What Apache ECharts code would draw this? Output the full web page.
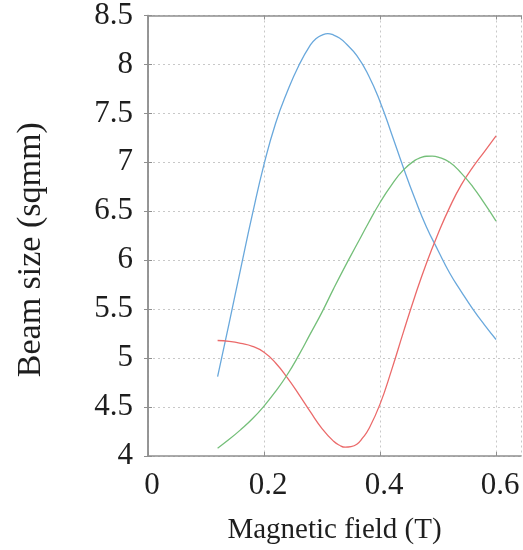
<!DOCTYPE html>
<html>
<head>
<meta charset="utf-8">
<script src="https://cdn.jsdelivr.net/npm/echarts@6/dist/echarts.min.js"></script>
<style>
  html, body { margin: 0; padding: 0; background: #fff; }
  #chart { width: 523px; height: 550px; }
</style>
</head>
<body>
<div id="chart"></div>
<script>
// Blue curve: magnetic field (T) and beam size (sqmm); denser sampling around the maximum
const blueField = [0.12, 0.14, 0.16, 0.18, 0.20, 0.22, 0.24, 0.26, 0.28,
                   0.29, 0.30, 0.31, 0.32, 0.33, 0.34,
                   0.36, 0.38, 0.40, 0.42, 0.44, 0.46, 0.48, 0.50, 0.52, 0.54, 0.56, 0.58, 0.60];
const blueSize  = [4.81, 5.36, 5.92, 6.47, 6.98, 7.40, 7.72, 7.99, 8.20,
                   8.265, 8.30, 8.315, 8.30, 8.27, 8.22,
                   8.09, 7.89, 7.62, 7.29, 6.95, 6.63, 6.34, 6.10, 5.87, 5.68, 5.50, 5.34, 5.19];

// Red curve: denser sampling around the minimum
const redField = [0.12, 0.14, 0.16, 0.18, 0.20, 0.22, 0.24, 0.26, 0.28, 0.30,
                  0.32, 0.33, 0.34, 0.35, 0.36, 0.37,
                  0.38, 0.40, 0.42, 0.44, 0.46, 0.48, 0.50, 0.52, 0.54, 0.56, 0.58, 0.60];
const redSize  = [5.18, 5.17, 5.15, 5.12, 5.06, 4.95, 4.80, 4.63, 4.45, 4.28,
                  4.15, 4.11, 4.09, 4.095, 4.12, 4.185,
                  4.27, 4.53, 4.88, 5.26, 5.63, 5.97, 6.27, 6.54, 6.77, 6.95, 7.11, 7.27];

// Green curve: denser sampling around the maximum
const greenField = [0.12, 0.14, 0.16, 0.18, 0.20, 0.22, 0.24, 0.26, 0.28, 0.30, 0.32, 0.34,
                    0.36, 0.38, 0.40, 0.42, 0.44, 0.46,
                    0.47, 0.48, 0.49, 0.50,
                    0.52, 0.54, 0.56, 0.58, 0.60];
const greenSize  = [4.08, 4.17, 4.27, 4.38, 4.51, 4.66, 4.83, 5.03, 5.25, 5.47, 5.71, 5.94,
                    6.16, 6.38, 6.59, 6.77, 6.92, 7.02,
                    7.047, 7.062, 7.064, 7.054,
                    7.00, 6.89, 6.75, 6.58, 6.40];

const xMin = 0, xMax = 0.643, xStep = 0.2;
const yMin = 4, yMax = 8.5, yStep = 0.5;

const pairs = (xs, ys) => xs.map((x, i) => [x, ys[i]]);

const serif = "'Liberation Serif', 'Times New Roman', serif";
const frameColor = '#8f8f8f';
const textColor = '#1e1e1e';
const gridLine = { show: true, lineStyle: { color: '#c8c8c8', type: [2, 3], width: 1 } };

const chart = echarts.init(document.getElementById('chart'), null, { renderer: 'canvas' });

chart.setOption({
  animation: false,
  grid: { left: 148, right: 2, top: 15, bottom: 91, containLabel: false },
  xAxis: [
    {
      type: 'value', min: xMin, max: xMax, interval: xStep, position: 'bottom',
      name: 'Magnetic field (T)', nameLocation: 'middle', nameGap: 60,
      nameTextStyle: { fontFamily: serif, fontSize: 29, color: textColor },
      axisLine: { show: true, lineStyle: { color: frameColor, width: 1.5 } },
      axisTick: { show: true, inside: true, length: 4, lineStyle: { color: frameColor } },
      axisLabel: { fontFamily: serif, fontSize: 31, color: textColor, margin: 14,
                   padding: [0, 0, 0, 8], showMaxLabel: false },
      splitLine: gridLine
    },
    {
      type: 'value', min: xMin, max: xMax, interval: xStep, position: 'top',
      axisLine: { show: true, lineStyle: { color: frameColor, width: 1.5 } },
      axisTick: { show: true, inside: true, length: 4, lineStyle: { color: frameColor } },
      axisLabel: { show: false },
      splitLine: { show: false }
    }
  ],
  yAxis: [
    {
      type: 'value', min: yMin, max: yMax, interval: yStep, position: 'left',
      name: 'Beam size (sqmm)', nameLocation: 'middle', nameGap: 100, nameRotate: 90,
      nameTextStyle: { fontFamily: serif, fontSize: 34, color: textColor, padding: [0, 28, 0, 0] },
      axisLine: { show: true, lineStyle: { color: frameColor, width: 1.5 } },
      axisTick: { show: true, inside: true, length: 4, lineStyle: { color: frameColor } },
      axisLabel: { fontFamily: serif, fontSize: 31, color: textColor, margin: 15 },
      splitLine: gridLine
    },
    {
      type: 'value', min: yMin, max: yMax, interval: yStep, position: 'right',
      axisLine: { show: true, lineStyle: { color: frameColor, width: 1.5 } },
      axisTick: { show: true, inside: true, length: 4, lineStyle: { color: frameColor } },
      axisLabel: { show: false },
      splitLine: { show: false }
    }
  ],
  series: [
    { type: 'line', smooth: 0.5, showSymbol: false, data: pairs(blueField, blueSize),
      lineStyle: { color: '#69a8dc', width: 1.3 } },
    { type: 'line', smooth: 0.5, showSymbol: false, data: pairs(redField, redSize),
      lineStyle: { color: '#eb6a6a', width: 1.3 } },
    { type: 'line', smooth: 0.5, showSymbol: false, data: pairs(greenField, greenSize),
      lineStyle: { color: '#74bf79', width: 1.3 } }
  ]
});
</script>
</body>
</html>
